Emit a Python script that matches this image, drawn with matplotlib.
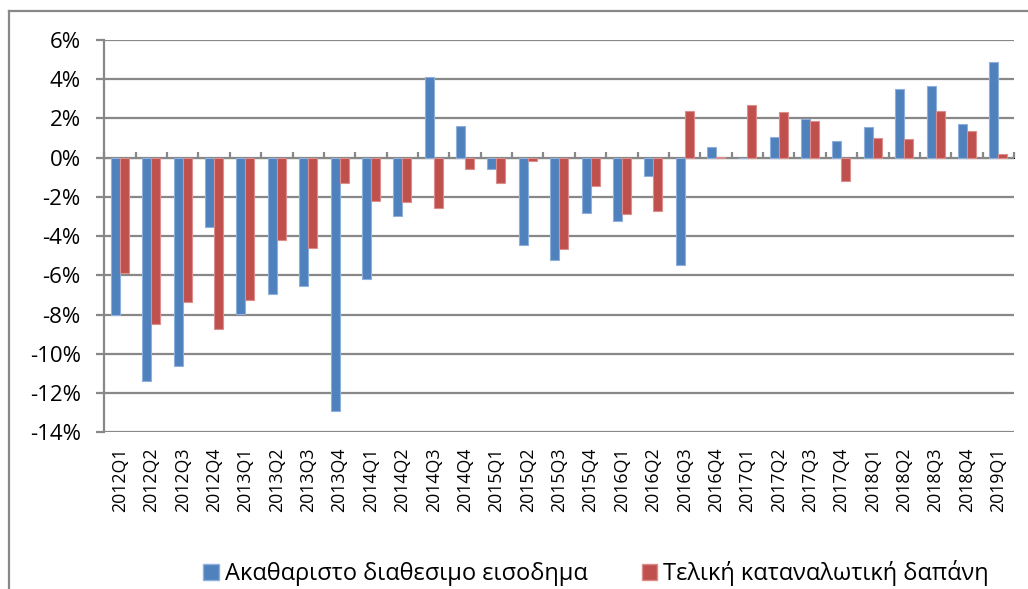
import matplotlib
matplotlib.use("Agg")
import matplotlib.pyplot as plt
import numpy as np
from matplotlib.lines import Line2D
from matplotlib.patches import Patch

plt.rcParams['font.family'] = ['Open Sans', 'DejaVu Sans']

quarters = ["2012Q1", "2012Q2", "2012Q3", "2012Q4",
            "2013Q1", "2013Q2", "2013Q3", "2013Q4",
            "2014Q1", "2014Q2", "2014Q3", "2014Q4",
            "2015Q1", "2015Q2", "2015Q3", "2015Q4",
            "2016Q1", "2016Q2", "2016Q3", "2016Q4",
            "2017Q1", "2017Q2", "2017Q3", "2017Q4",
            "2018Q1", "2018Q2", "2018Q3", "2018Q4",
            "2019Q1"]

income = [-8.0, -11.4, -10.6, -3.55,
          -7.95, -6.93, -6.56, -12.9,
          -6.17, -2.97, 4.11, 1.61,
          -0.59, -4.43, -5.2, -2.8,
          -3.25, -0.95, -5.47, 0.53,
          0.0, 1.04, 1.97, 0.87,
          1.56, 3.5, 3.65, 1.7,
          4.88]

consumption = [-5.86, -8.48, -7.37, -8.75,
               -7.27, -4.2, -4.6, -1.29,
               -2.19, -2.28, -2.58, -0.56,
               -1.29, -0.15, -4.66, -1.45,
               -2.85, -2.72, 2.4, 0.03,
               2.7, 2.34, 1.85, -1.2,
               1.02, 0.93, 2.4, 1.38,
               0.2]

series_names = ["Ακαθαριστο διαθεσιμο εισοδημα", "Τελική καταναλωτική δαπάνη"]
colors = ["#4F81BD", "#C0504D"]
edge_colors = ["#8EB0DC", "#DC8E8C"]
yticks = [-14, -12, -10, -8, -6, -4, -2, 0, 2, 4, 6]

W, H = 1028, 589
fig = plt.figure(figsize=(W / 100, H / 100), dpi=100)
ax = fig.add_axes([104.3 / W, 1 - 432.3 / H, (1014 - 104.3) / W, (432.3 - 40) / H])

grid_c = "#888888"
x = np.arange(len(quarters))
bw = 0.287
ax.bar(x - bw / 2, np.array(income), width=bw, color=colors[0],
       edgecolor=edge_colors[0], linewidth=0.8, zorder=3)
ax.bar(x + bw / 2, np.array(consumption), width=bw, color=colors[1],
       edgecolor=edge_colors[1], linewidth=0.8, zorder=3)

ax.set_xlim(-0.5, len(quarters) - 0.5)
ax.set_ylim(-14, 6)
ax.set_yticks(yticks)
ax.set_yticklabels([f"{v}%" for v in yticks], fontsize=16, color="#000000")
ax.yaxis.grid(True, color=grid_c, linewidth=1.6, zorder=0)
ax.tick_params(axis='y', length=6, width=1.6, color=grid_c, pad=11)

ax.set_xticks(x)
ax.set_xticklabels(quarters, rotation=90, fontsize=12.8, color="#000000")
ax.tick_params(axis='x', length=0, pad=11)

for s in ["top", "right", "bottom"]:
    ax.spines[s].set_visible(False)
ax.spines["left"].set_color(grid_c)
ax.spines["left"].set_linewidth(1.6)

# zero axis with category boundary ticks
sec = ax.secondary_xaxis(14 / 20)
sec.set_xticks(np.arange(len(quarters) + 1) - 0.5)
sec.set_xticklabels([])
sec.tick_params(axis='x', direction='out', length=4.5, width=1.6, color=grid_c)
sec.spines["bottom"].set_color(grid_c)
sec.spines["bottom"].set_linewidth(1.6)
sec.spines["bottom"].set_zorder(4)

# outer chart border (partially visible)
fig.add_artist(Line2D([8.5 / W, 8.5 / W], [0, 1 - 10.7 / H], transform=fig.transFigure,
                      color=grid_c, linewidth=1.6))
fig.add_artist(Line2D([8.5 / W, 1], [1 - 10.7 / H, 1 - 10.7 / H], transform=fig.transFigure,
                      color=grid_c, linewidth=1.6))

handles = [Patch(facecolor=colors[0], edgecolor=edge_colors[0]),
           Patch(facecolor=colors[1], edgecolor=edge_colors[1])]
fig.legend(handles, series_names, loc="center", bbox_to_anchor=(596 / W, 1 - 573 / H),
           ncol=2, frameon=False, fontsize=17, handlelength=0.65, handleheight=0.65,
           handletextpad=0.25, columnspacing=2.3, borderpad=0, borderaxespad=0)

fig.savefig("out.png", dpi=100)
